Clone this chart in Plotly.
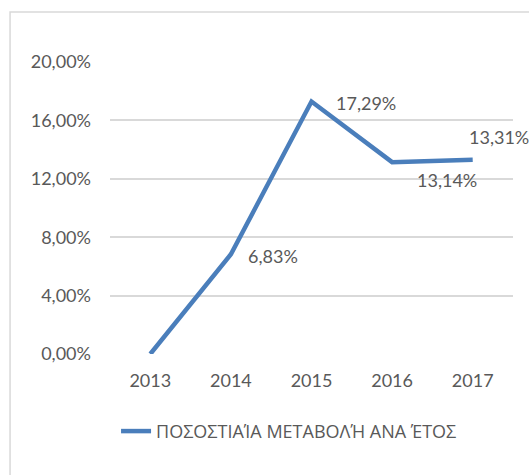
"""
Ποσοστιαία μεταβολή ανά έτος - γραμμικό διάγραμμα
"""

import plotly.graph_objects as go

# δεδομένα
years = ['2013', '2014', '2015', '2016', '2017']
change = [0.0, 0.0683, 0.1729, 0.1314, 0.1331]
series_name = 'ΠΟΣΟΣΤΙΑΊΑ ΜΕΤΑΒΟΛΉ ΑΝΑ ΈΤΟΣ'
y_ticks = [0.0, 0.04, 0.08, 0.12, 0.16, 0.20]

# μετατόπιση ετικέτας για κάθε σημείο σε px (None = χωρίς ετικέτα)
label_shift = [None, (15, -2), (22, -1), (23, -18), (-6, 23)]

LINE_COLOR = '#4a7ebb'
TEXT_COLOR = '#595959'
GRID_COLOR = '#d9d9d9'
FONT = 'Lato, Open Sans, sans-serif'
LEGEND_FONT = 'Open Sans, Noto Sans, sans-serif'


def pct(v):
    return f"{v * 100:.2f}%".replace('.', ',')


fig = go.Figure()

fig.add_trace(go.Scatter(
    x=years,
    y=change,
    mode='lines',
    name=series_name,
    line=dict(color=LINE_COLOR, width=4.5),
    hoverinfo='skip'
))

# ετικέτες δεδομένων (x ως δείκτης κατηγορίας)
for i, (v, sh) in enumerate(zip(change, label_shift)):
    if sh is None:
        continue
    fig.add_annotation(
        x=i, y=v, text=pct(v), showarrow=False,
        xanchor='left', yanchor='middle',
        xshift=sh[0], yshift=sh[1],
        font=dict(family=FONT, size=18, color=TEXT_COLOR)
    )

# πλαίσιο γραφήματος
fig.add_shape(
    type='rect', xref='paper', yref='paper',
    x0=-0.248, x1=1.08, y0=-0.45, y1=1.1712,
    line=dict(color=GRID_COLOR, width=1.5),
    fillcolor='rgba(0,0,0,0)', layer='below'
)

fig.update_layout(
    width=529, height=475,
    margin=dict(l=110, r=16, t=62, b=121, autoexpand=False),
    paper_bgcolor='white',
    plot_bgcolor='white',
    separators=',.',
    font=dict(family=FONT, size=18, color=TEXT_COLOR),
    showlegend=True,
    legend=dict(
        orientation='h',
        x=0.015, xanchor='left',
        y=-0.265, yanchor='middle',
        font=dict(family=LEGEND_FONT, size=18, color=TEXT_COLOR),
        bgcolor='rgba(0,0,0,0)'
    ),
    xaxis=dict(
        type='category',
        range=[-0.5, len(years) - 0.5],
        autorange=False,
        showgrid=False,
        showline=False,
        zeroline=False,
        ticks='',
        ticklabelstandoff=14,
        tickfont=dict(size=18, color=TEXT_COLOR),
        fixedrange=True
    ),
    yaxis=dict(
        range=[0, 0.20],
        autorange=False,
        tickvals=y_ticks,
        tickformat='.2%',
        showgrid=True,
        gridcolor=GRID_COLOR,
        gridwidth=1.5,
        zeroline=False,
        showline=False,
        ticks='',
        ticklabelstandoff=18,
        tickfont=dict(size=18, color=TEXT_COLOR),
        fixedrange=True
    )
)

fig.write_html("out.html", config={'displayModeBar': False},
               post_script="document.body.style.margin='0';")
